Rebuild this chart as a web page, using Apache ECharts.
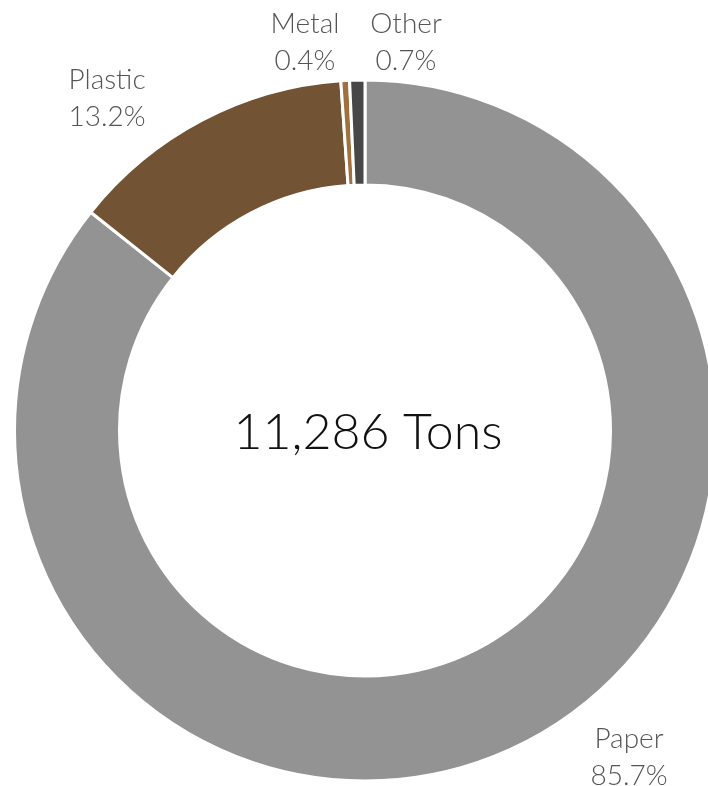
<!DOCTYPE html>
<html>
<head>
<meta charset="utf-8">
<script src="https://cdn.jsdelivr.net/npm/echarts@6/dist/echarts.min.js"></script>
<style>html,body{margin:0;padding:0;background:#fff;}#c{width:708px;height:786px;}</style>
</head>
<body>
<div id="c"></div>
<script>
const categories = ['Paper', 'Plastic', 'Metal', 'Other'];
const percentValues = [85.7, 13.2, 0.4, 0.7];
const totalLabel = '11,286 Tons';

const colors = ['#939393', '#725334', '#a0703f', '#474747'];
const labelPos = [[629, 757], [107, 98], [305, 42], [406, 42]];

const chart = echarts.init(document.getElementById('c'));
chart.setOption({
  animation: false,
  graphic: [{
    type: 'text',
    x: 368, y: 433,
    style: {
      text: totalLabel,
      fill: '#111',
      font: '300 50px Lato',
      textAlign: 'center',
      textVerticalAlign: 'middle'
    }
  }],
  series: [{
    type: 'pie',
    center: [365, 430.5],
    radius: [245.5, 350.5],
    startAngle: 90,
    clockwise: true,
    avoidLabelOverlap: false,
    itemStyle: { borderColor: '#fff', borderWidth: 3 },
    label: {
      show: true,
      position: 'outside',
      formatter: p => p.name + '\n' + p.value.toFixed(1) + '%',
      fontFamily: 'Lato',
      fontWeight: 300,
      fontSize: 28,
      lineHeight: 37,
      color: '#555',
      align: 'center'
    },
    labelLine: { show: false },
    labelLayout: p => ({
      x: labelPos[p.dataIndex][0],
      y: labelPos[p.dataIndex][1],
      align: 'center',
      verticalAlign: 'middle'
    }),
    data: categories.map((c, i) => ({ name: c, value: percentValues[i], itemStyle: { color: colors[i] } }))
  }]
});
</script>
</body>
</html>
